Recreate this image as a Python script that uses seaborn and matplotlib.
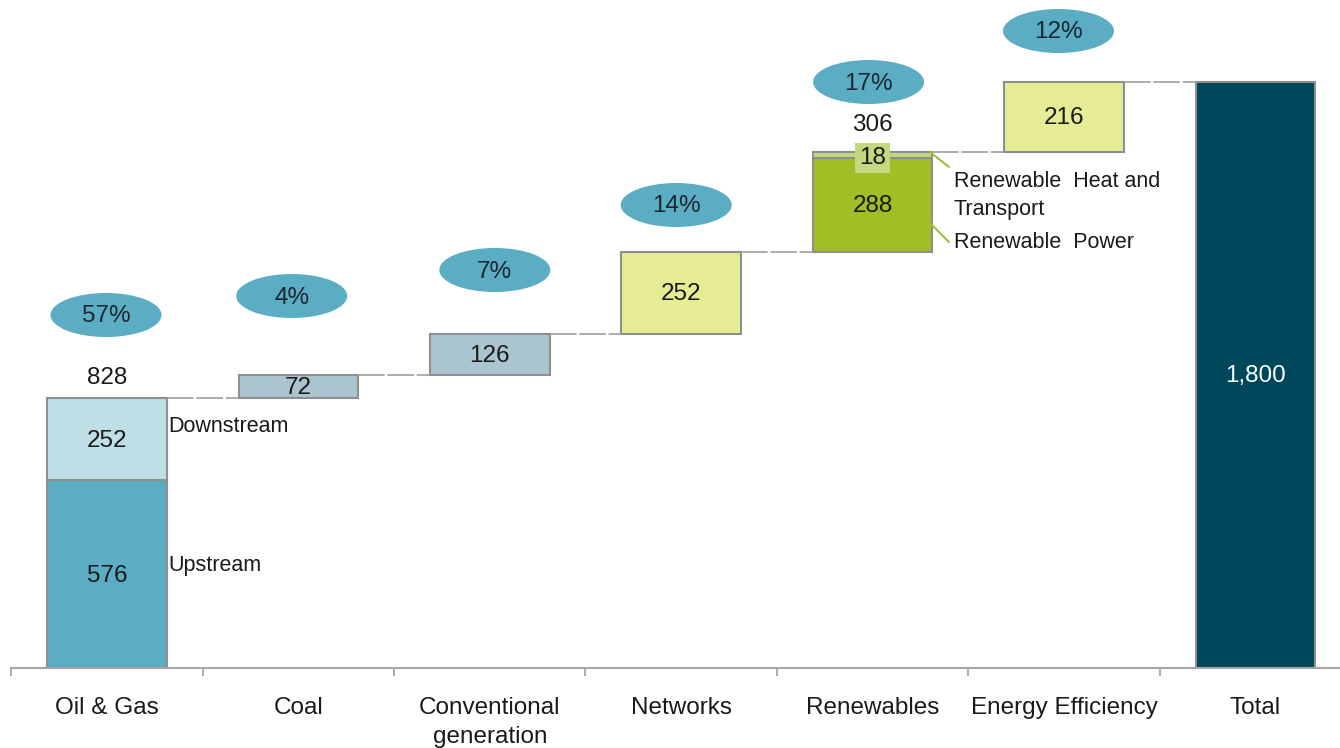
import matplotlib
matplotlib.use("Agg")
import matplotlib.pyplot as plt
from matplotlib.patches import Ellipse
import numpy as np
import pandas as pd
import seaborn as sns

# ---- data -------------------------------------------------------------
categories = ["Oil & Gas", "Coal", "Conventional\ngeneration", "Networks",
              "Renewables", "Energy Efficiency", "Total"]
base_values = [576, 72, 126, 252, 288, 216, 1800]   # lower segment of each column
stacked_values = [252, 0, 0, 0, 18, 0, 0]           # upper segment where a column is split
share_labels = ["57%", "4%", "7%", "14%", "17%", "12%"]
segment_names = {"Oil & Gas": ("Upstream", "Downstream"),
                 "Renewables": ("Renewable  Power", "Renewable  Heat and\nTransport")}

column_sums = [b + s for b, s in zip(base_values, stacked_values)]
# contributing columns float on the running sum, the total column sits on zero
starts = [int(v) for v in np.cumsum([0] + column_sums[:5])] + [0]

# ---- styling ----------------------------------------------------------
base_colors = ["#5AADC3", "#ABC5D0", "#ABC5D0", "#E6EC94",
               "#9FBF25", "#E6EC94", "#00475B"]
stacked_colors = {"Oil & Gas": "#BEDFE6", "Renewables": "#C4D97F"}
badge_color = "#5AADC3"
edge_color = "#8F8F8F"
text_color = "#1A1A1A"
bar_width = 0.625
num_size = 17.5

sns.set_style("white")
plt.rcParams["font.family"] = ["Liberation Sans", "DejaVu Sans"]

fig = plt.figure(figsize=(13.4, 7.48), dpi=100)
px_per_cat = 191.4
ax = fig.add_axes([11.3 / 1340, 80 / 748, 7 * px_per_cat / 1340, 668 / 748])
y_top = 668 / 0.3257
px = y_top / 668          # data units per pixel vertically


def centre_of(patch):
    return int(round(patch.get_x() + patch.get_width() / 2))


# lower segments
base_df = pd.DataFrame({"category": categories, "value": base_values})
sns.barplot(data=base_df, x="category", y="value", hue="category",
            order=categories, hue_order=categories, palette=base_colors,
            saturation=1, width=bar_width, edgecolor=edge_color, linewidth=1.5,
            legend=False, ax=ax)
for patch in ax.patches:
    patch.set_y(starts[centre_of(patch)])
n_base = len(ax.patches)

# upper segments
stack_df = pd.DataFrame({"category": categories, "value": stacked_values})
stack_df = stack_df[stack_df["value"] > 0]
sns.barplot(data=stack_df, x="category", y="value", hue="category",
            order=categories, palette=stacked_colors,
            saturation=1, width=bar_width, edgecolor=edge_color, linewidth=1.5,
            legend=False, ax=ax)
for patch in ax.patches[n_base:]:
    i = centre_of(patch)
    patch.set_y(starts[i] + base_values[i])

ax.set_xlim(-0.5, 6.5)
ax.set_ylim(0, y_top)
ax.set_xlabel("")
ax.set_ylabel("")

# dashed connectors between consecutive columns
for i in range(6):
    level = starts[i] + column_sums[i]
    ax.plot([i + bar_width / 2, i + 1 - bar_width / 2], [level, level],
            color="#A0A0A0", lw=1.2, ls=(0, (16, 1.6)), zorder=1)

# values inside segments
for i, (start, val) in enumerate(zip(starts, base_values)):
    colour = "white" if categories[i] == "Total" else text_color
    label = f"{val:,}"
    ax.text(i, start + val / 2 - 1.5 * px, label, ha="center", va="center",
            fontsize=num_size, color=colour)

for i, val in enumerate(stacked_values):
    if val == 0:
        continue
    y = starts[i] + base_values[i] + val / 2
    if val < 60:
        ax.text(i, y - 3 * px, f"{val}", ha="center", va="center", fontsize=num_size,
                color=text_color,
                bbox=dict(boxstyle="square,pad=0.18", fc=stacked_colors[categories[i]],
                          ec="none"))
    else:
        ax.text(i, y - 1.5 * px, f"{val}", ha="center", va="center", fontsize=num_size,
                color=text_color)

# column sums above split columns
sum_offsets = {"Oil & Gas": 20, "Renewables": 27}
for i, cat in enumerate(categories):
    if stacked_values[i] and cat in sum_offsets:
        ax.text(i, starts[i] + column_sums[i] + sum_offsets[cat] * px, f"{column_sums[i]}",
                ha="center", va="center", fontsize=num_size, color=text_color)

# share badges
badge_y = [668 - 315, 668 - 296, 668 - 270, 668 - 205, 668 - 82, 668 - 31]
badge_dx = [-1, -6.7, 5, -5, -4, -5.5]
for i, (lab, ypx, dx) in enumerate(zip(share_labels, badge_y, badge_dx)):
    cx = i + dx / px_per_cat
    cy = ypx * px
    ax.add_patch(Ellipse((cx, cy), 111 / px_per_cat, 44 * px,
                         fc=badge_color, ec="none", zorder=3))
    ax.text(cx, cy - 1.5 * px, lab, ha="center", va="center", fontsize=num_size,
            color="#1C2633", zorder=4)

# segment names
lower, upper = segment_names["Oil & Gas"]
ax.text(0.319, (668 - 426) * px, upper, ha="left", va="center", fontsize=15.5, color=text_color)
ax.text(0.319, (668 - 566) * px, lower, ha="left", va="center", fontsize=15.5, color=text_color)

lower, upper = segment_names["Renewables"]
lead = "#9DC03A"
r = categories.index("Renewables")
ax.plot([r + 0.300, r + 0.399], [(668 - 152) * px, (668 - 167) * px], color=lead, lw=1.5)
ax.plot([r + 0.305, r + 0.399], [(668 - 224) * px, (668 - 242) * px], color=lead, lw=1.5)
ax.text(r + 0.425, (668 - 195.5) * px, upper, ha="left", va="center",
        fontsize=15.5, color=text_color, linespacing=1.4)
ax.text(r + 0.425, (668 - 243) * px, lower, ha="left", va="center",
        fontsize=15.5, color=text_color)

# axis
for side in ["top", "right", "left"]:
    ax.spines[side].set_visible(False)
ax.spines["bottom"].set_color("#A6A6A6")
ax.spines["bottom"].set_linewidth(1.5)
ax.set_yticks([])
ax.set_xticks(range(len(categories)))
ax.set_xticklabels(categories, fontsize=17.5, color=text_color, linespacing=1.4)
ax.tick_params(axis="x", which="major", bottom=True, length=0, pad=21)
ax.set_xticks(np.arange(-0.5, len(categories), 1), minor=True)
ax.tick_params(axis="x", which="minor", bottom=True, length=6, width=1.2,
               color="#A0A0A0", direction="out")

fig.savefig("out.png", dpi=100)
